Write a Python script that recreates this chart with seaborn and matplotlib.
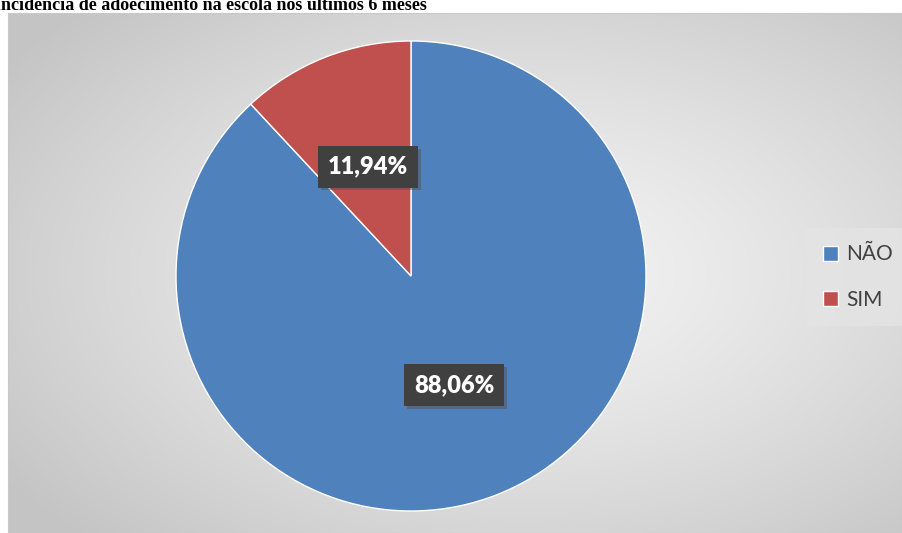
import numpy as np
import matplotlib
matplotlib.use("Agg")
import matplotlib.pyplot as plt
import matplotlib.patheffects as pe
import seaborn as sns

# ---- data ----
categories = ["NÃO", "SIM"]
values = [88.06, 11.94]
colors = ["#4F81BD", "#C0504D"]
title = "Incidência de adoecimento na escola nos últimos 6 meses"

sns.set_theme(style="white")
plt.rcParams["font.family"] = ["Lato", "DejaVu Sans"]

W, H = 902, 533
fig = plt.figure(figsize=(W / 100, H / 100), dpi=100)
fig.patch.set_facecolor("white")

# ---- gradient panel ----
px0, py_top, px1, py_bot = 8, 13, 902, 533
bg = fig.add_axes([px0 / W, 1 - py_bot / H, (px1 - px0) / W, (py_bot - py_top) / H])
ny, nx = 260, 450
yy, xx = np.mgrid[-1:1:ny * 1j, -1:1:nx * 1j]
r = np.sqrt(((xx - 0.15) / 1.0) ** 2 + (yy / 1.0) ** 2) / np.sqrt(2)
r = np.clip(r, 0, 1)
c0, c1 = 0.955, 0.77
img = c0 + (c1 - c0) * r ** 1.3
bg.imshow(np.dstack([img, img, img]), aspect="auto", extent=[0, 1, 0, 1], interpolation="bilinear")
bg.set_xticks([]); bg.set_yticks([])
for s in bg.spines.values():
    s.set_color("#c8c8c8"); s.set_linewidth(0.8)

# ---- pie ----
cx, cy, rad = 411, 276, 235
ax = fig.add_axes([(cx - rad) / W, 1 - (cy + rad) / H, 2 * rad / W, 2 * rad / H])
ax.set_facecolor("none")
wedges, texts, autotexts = ax.pie(
    values, colors=colors, startangle=90, counterclock=False, radius=1,
    autopct=lambda p: f"{p:.2f}%".replace(".", ","), pctdistance=0.5,
    wedgeprops=dict(edgecolor="white", linewidth=1.0),
    textprops=dict(color="white", fontsize=17, fontweight="heavy"),
)
ax.set_xlim(-1, 1); ax.set_ylim(-1, 1)
ax.set_aspect("auto")
ax.axis("off")
for t in autotexts:
    t.set_bbox(dict(boxstyle="square,pad=0.42", facecolor="#404040", edgecolor="none"))
    t.get_bbox_patch().set_path_effects([pe.withSimplePatchShadow(offset=(2, -2), shadow_rgbFace="#555555", alpha=0.5), pe.Normal()])

# ---- legend ----
leg = fig.legend(wedges, categories, loc="center left",
                 bbox_to_anchor=(813 / W, 1 - 277 / H), frameon=True,
                 fontsize=15, handlelength=0.7, handleheight=0.7,
                 handletextpad=0.4, labelspacing=1.2, borderpad=0.5,
                 borderaxespad=0)
leg.get_frame().set_facecolor("#e4e4e4")
leg.get_frame().set_edgecolor("none")
leg.get_frame().set_boxstyle("square")
for t in leg.get_texts():
    t.set_color("#404040")

# ---- title (partly cut at top, as in the reference) ----
fig.text(-6 / W, 1 - 10 / H, title, ha="left", va="baseline",
         fontsize=13, fontweight="bold", family=["Liberation Serif"], color="black")

fig.savefig("out.png", dpi=100)
